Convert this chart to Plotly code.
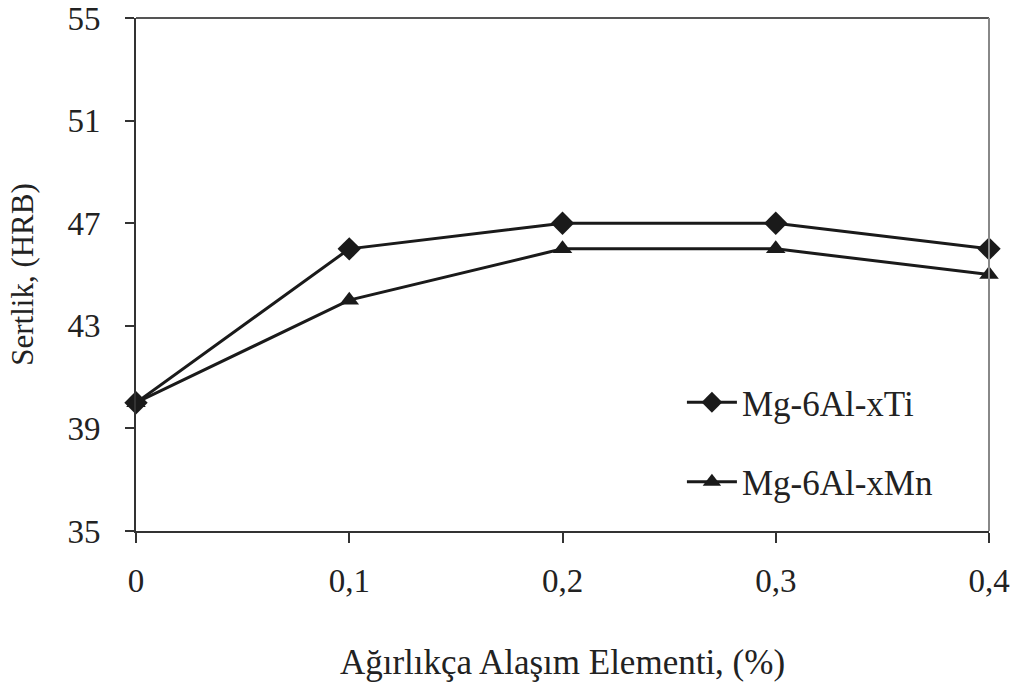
import plotly.graph_objects as go

x_vals = [0, 0.1, 0.2, 0.3, 0.4]
x_tick_text = ["0", "0,1", "0,2", "0,3", "0,4"]
ti_vals = [40, 46, 47, 47, 46]
mn_vals = [40, 44, 46, 46, 45]
y_ticks = [35, 39, 43, 47, 51, 55]

FONT = "Liberation Serif, Times New Roman, serif"

fig = go.Figure()
fig.add_trace(go.Scatter(x=x_vals, y=ti_vals, mode="lines+markers", name="Mg-6Al-xTi",
                         legendgroup="ti",
                         line=dict(color="#1a1a1a", width=3),
                         marker=dict(symbol="diamond", size=18, color="#1a1a1a"),
                         cliponaxis=False))
fig.add_trace(go.Scatter(x=x_vals, y=mn_vals, mode="lines+markers", name="Mg-6Al-xMn",
                         legendgroup="mn",
                         line=dict(color="#1a1a1a", width=3),
                         marker=dict(symbol="triangle-up", size=17, color="#1a1a1a"),
                         cliponaxis=False))

fig.update_layout(
    width=1015, height=685,
    margin=dict(l=136, r=26, t=18, b=154, autoexpand=False),
    paper_bgcolor="white", plot_bgcolor="white",
    font=dict(family=FONT, size=33, color="#222"),
    legend=dict(x=0.64, y=0.308, xanchor="left", yanchor="top",
                traceorder="grouped", bgcolor="rgba(0,0,0,0)",
                font=dict(size=35), itemwidth=50, tracegroupgap=31),
    showlegend=True,
)
fig.update_xaxes(range=[0, 0.4], tickvals=x_vals, ticktext=x_tick_text,
                 automargin=False, ticklabeloverflow="allow",
                 showgrid=False, zeroline=False,
                 showline=True, linecolor="#333", linewidth=2,
                 ticks="outside", ticklen=10, tickwidth=2, tickcolor="#333",
                 ticklabelstandoff=9,
                 title=dict(text="Ağırlıkça Alaşım Elementi, (%)", standoff=52,
                            font=dict(size=35)))
fig.update_yaxes(range=[35, 55], tickvals=y_ticks,
                 automargin=False, ticklabeloverflow="allow",
                 showgrid=False, zeroline=False,
                 showline=True, linecolor="#333", linewidth=2,
                 ticks="outside", ticklen=9, tickwidth=2, tickcolor="#333",
                 ticklabelstandoff=18,
                 title=dict(text="Sertlik, (HRB)", standoff=25, font=dict(size=31)))

# top and right frame lines
fig.add_shape(type="line", xref="paper", yref="paper", x0=0, x1=1, y0=1, y1=1,
              line=dict(color="#555", width=2))
fig.add_shape(type="line", xref="paper", yref="paper", x0=1, x1=1, y0=0, y1=1,
              line=dict(color="#888", width=2))

fig.write_html("out.html", config={"displayModeBar": False},
               post_script="document.body.style.margin='0';")
